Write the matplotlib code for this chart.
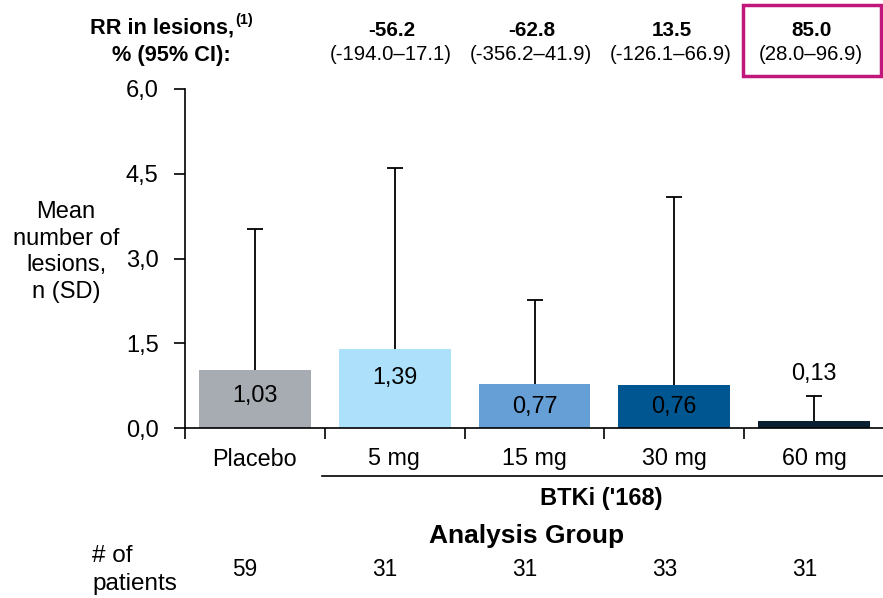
import matplotlib
matplotlib.use("Agg")
import matplotlib.pyplot as plt
from matplotlib.patches import Rectangle
from matplotlib.ticker import FixedLocator, FuncFormatter

plt.rcParams["font.family"] = ["Liberation Sans", "DejaVu Sans"]

W, H = 883, 598

groups = ["Placebo", "5 mg", "15 mg", "30 mg", "60 mg"]
means = [1.03, 1.39, 0.77, 0.76, 0.13]
sds = [2.50, 3.21, 1.50, 3.33, 0.44]
colors = ["#A6ACB1", "#ADE1FB", "#659FD6", "#005691", "#0B1F33"]
label_y = [0.58, 0.90, 0.38, 0.38, 0.97]   # where the value labels sit
n_patients = [59, 31, 31, 33, 31]
rr = ["-56.2", "-62.8", "13.5", "85.0"]
rr_ci = ["(-194.0\u201317.1)", "(-356.2\u201341.9)", "(-126.1\u201366.9)", "(28.0\u201396.9)"]
yticks = [0.0, 1.5, 3.0, 4.5, 6.0]


def px(x, y):
    # pixel position (from top-left) -> figure fraction
    return x / W, 1 - y / H


fig = plt.figure(figsize=(W / 100, H / 100), dpi=100)
ax = fig.add_axes([185 / W, 1 - 428 / H, 699 / W, (428 - 89) / H])

x = list(range(len(groups)))
ax.bar(x, means, width=0.8, color=colors, zorder=2)
eb = ax.errorbar(x, means, yerr=[[0] * len(sds), sds], fmt="none", ecolor="black",
                 elinewidth=1.3, capsize=6, capthick=1.3, zorder=1)
eb[1][0].set_visible(False)   # only the upper cap

for i, (m, ly) in enumerate(zip(means, label_y)):
    ax.text(i, ly, f"{m:.2f}".replace(".", ","), ha="center", va="center",
            fontsize=16.8, color="black", zorder=3)

ax.set_xlim(-0.5, 4.5)
ax.set_ylim(0, 6)
ax.yaxis.set_major_locator(FixedLocator(yticks))
ax.yaxis.set_major_formatter(FuncFormatter(lambda v, p: f"{v:.1f}".replace(".", ",")))
ax.xaxis.set_major_locator(FixedLocator([i - 0.5 for i in range(6)]))
ax.set_xticklabels([])
ax.tick_params(axis="y", labelsize=17, length=8, width=1.2, direction="out", pad=11)
ax.tick_params(axis="x", length=8, width=1.2, direction="out")
for s in ("top", "right"):
    ax.spines[s].set_visible(False)
for s in ("left", "bottom"):
    ax.spines[s].set_linewidth(1.2)

for i, g in enumerate(groups):
    fig.text(*px(254 + 140 * i, 459), g, ha="center", va="center", fontsize=16.8)
    fig.text(*px(245 + 140 * i, 569), str(n_patients[i]), ha="center", va="center", fontsize=16.3)

fig.add_artist(plt.Line2D([322 / W, 1.0], [1 - 476 / H] * 2, color="black", lw=1.2))
fig.text(*px(601, 498), "BTKi ('168)", ha="center", va="center", fontsize=17, fontweight="bold")
fig.text(*px(527, 536), "Analysis Group", ha="center", va="center", fontsize=19, fontweight="bold")
fig.text(*px(92, 570), "# of\npatients", ha="left", va="center", fontsize=17.5, linespacing=1.3)

fig.text(*px(66, 252), "Mean\nnumber of\nlesions,\nn (SD)", ha="center", va="center",
         fontsize=17, linespacing=1.28)

fig.text(*px(234, 28), "RR in lesions,", ha="right", va="center",
         fontsize=15.7, fontweight="bold")
fig.text(*px(235, 20), "(1)", ha="left", va="center", fontsize=10.5, fontweight="bold")
fig.text(*px(171, 55), "% (95% CI):", ha="center", va="center", fontsize=15.7, fontweight="bold")
for i in range(len(rr)):
    fig.text(*px(392 + 140 * i, 31), rr[i], ha="center", va="center", fontsize=14.9, fontweight="bold")
    fig.text(*px(391 + 140 * i, 55), rr_ci[i], ha="center", va="center", fontsize=14.7)

fig.add_artist(Rectangle(px(743, 76), 138 / W, 71 / H, fill=False,
                         edgecolor="#C2177A", lw=2.5, transform=fig.transFigure))

fig.savefig("out.png", dpi=100)
